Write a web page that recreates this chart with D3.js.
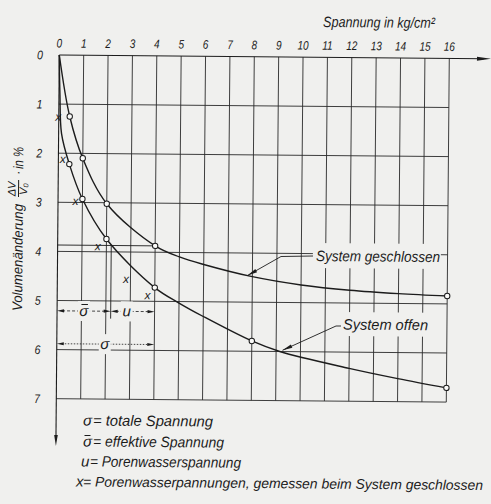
<!DOCTYPE html>
<html><head><meta charset="utf-8">
<script src="https://cdn.jsdelivr.net/npm/d3@7/dist/d3.min.js"></script>
<style>html,body{margin:0;padding:0;background:#f0f0ee;}svg{display:block}</style>
</head><body>
<svg id="c" width="491" height="504"></svg>
<script>
// ---------- data ----------
const xTicks = [0,1,2,3,4,5,6,7,8,9,10,11,12,13,14,15,16];
const xTickLabels = ["0","1","2","3","4","5","6","7","8","9","10","11","12","13","14","15","16"];
const yTicks = [0,1,2,3,4,5,6,7];
const yTickLabels = ["0","1","2","3","4","5","6","7"];

// measured points (circles)
const closedStress = [0.45, 1, 2, 4, 16];
const closedVol    = [1.25, 2.1, 3.02, 3.87, 4.84];
const openStress   = [0.45, 1, 2, 4, 8, 16];
const openVol      = [2.22, 2.93, 3.74, 4.72, 5.79, 6.71];

// drawn curves
const closedCurveX = [0, 0.45, 1, 2, 4, 5, 6, 8, 10, 12, 14, 16];
const closedCurveY = [0, 1.25, 2.1, 3.02, 3.87, 4.09, 4.24, 4.48, 4.64, 4.74, 4.8, 4.84];
const openCurveX = [0, 0.04, 0.12, 0.45, 1, 2, 4, 5, 6, 8, 9.15, 12, 14, 16];
const openCurveY = [0, 0.8, 1.6, 2.22, 2.93, 3.74, 4.72, 5.03, 5.3, 5.79, 6.0, 6.33, 6.53, 6.71];

// pore water pressures measured with closed system (x marks)
const poreX = [0, 0.2, 0.74, 1.67, 2.84, 3.73];
const poreY = [1.27, 2.13, 2.98, 3.9, 4.56, 4.89];

// construction for sigma / sigma-bar / u at sigma = 4
const refStress = 4, refVol = 3.87, effStress = 2.2;

const xTitle = "Spannung in kg/cm²";
const yTitleMain = "Volumenänderung";
const legendSymbols = ["σ", "σ", "u", "x"];
const legendTexts = ["= totale Spannung", "= effektive Spannung", "= Porenwasserspannung",
  "= Porenwasserpannungen, gemessen beim System geschlossen"];
const curveLabels = ["System geschlossen", "System offen"];

// ---------- layout ----------
const W = 491, H = 504, BG = "#f0f0ee", INK = "#1c1c1c";
const OX = 59.3, OY = 55, THETA = 0.5;
const rad = THETA*Math.PI/180, sn = Math.sin(rad), cs = Math.cos(rad);
const FONT = "'Liberation Sans Narrow','Liberation Sans','DejaVu Sans',sans-serif";
const x = d3.scaleLinear().domain([0,16]).range([OX, OX+390]);
const y = d3.scaleLinear().domain([0,7]).range([OY, OY+7*49.1]);
function inv(X,Y){const dx=X-OX, dy=Y-OY; return [OX+cs*dx+sn*dy, OY-sn*dx+cs*dy];}

const svg = d3.select("#c");
svg.append("rect").attr("width",W).attr("height",H).attr("fill",BG);
const g = svg.append("g").attr("transform",`rotate(${THETA},${OX},${OY})`);

function text(parent, px, py, str, o={}){
  const t = parent.append("text").attr("x",px).attr("y",py).text(str)
    .attr("font-family",FONT).attr("font-style","italic")
    .attr("font-size",o.size||15).attr("fill",INK)
    .attr("text-anchor",o.anchor||"start");
  if(o.len){t.attr("textLength",o.len).attr("lengthAdjust","spacingAndGlyphs");}
  return t;
}
function textS(X,Y,str,o){const p=inv(X,Y); return text(g,p[0],p[1],str,o);}
function boxS(X,Y,w,h){const p=inv(X,Y); g.append("rect").attr("x",p[0]).attr("y",p[1]).attr("width",w).attr("height",h).attr("fill",BG);}
function barS(X,Y,w){const p=inv(X,Y); g.append("line").attr("x1",p[0]-w/2).attr("x2",p[0]+w/2).attr("y1",p[1]).attr("y2",p[1]).attr("stroke",INK).attr("stroke-width",1);}
function arrowHead(parent, tx, ty, fx, fy, len, hw){
  const dx=tx-fx, dy=ty-fy, L=Math.hypot(dx,dy), ux=dx/L, uy=dy/L;
  const bx=tx-ux*len, by=ty-uy*len;
  parent.append("path").attr("d",`M${tx},${ty}L${bx-uy*hw},${by+ux*hw}L${bx+uy*hw},${by-ux*hw}Z`).attr("fill",INK);
}

// ---------- grid ----------
const grid = g.append("g").attr("stroke","#2a2a2a").attr("stroke-width",0.9).attr("fill","none");
xTicks.filter(d=>d>0).forEach(d=>grid.append("line").attr("x1",x(d)).attr("x2",x(d)).attr("y1",y(0)).attr("y2",y(7)));
yTicks.filter(d=>d>0).forEach(d=>grid.append("line").attr("x1",x(0)).attr("x2",x(16)).attr("y1",y(d)).attr("y2",y(d)));

// axes with arrows
g.append("line").attr("x1",x(0)).attr("x2",484).attr("y1",y(0)).attr("y2",y(0)).attr("stroke",INK).attr("stroke-width",1.1);
arrowHead(g, 491, y(0), 400, y(0), 14, 2);
g.append("line").attr("x1",x(0)).attr("x2",x(0)).attr("y1",y(0)).attr("y2",438).attr("stroke",INK).attr("stroke-width",1.1);
arrowHead(g, x(0), 446, x(0), 300, 11, 1.8);

// tick labels
xTicks.forEach((d,i)=>{
  g.append("text").attr("transform",`translate(${x(d)},${OY-7.5}) scale(0.8,1)`)
   .attr("text-anchor","middle").attr("font-family",FONT).attr("font-style","italic")
   .attr("font-size",12.5).attr("fill",INK).text(xTickLabels[i]);
});
yTicks.forEach((d,i)=>{
  g.append("text").attr("transform",`translate(40,${y(d)+4.5}) scale(0.85,1)`)
   .attr("text-anchor","middle").attr("font-family",FONT).attr("font-style","italic")
   .attr("font-size",12.5).attr("fill",INK).text(yTickLabels[i]);
});

// axis titles
textS(323, 27, xTitle, {size:15, len:112});
{
  const p = inv(22, 311);
  const yt = g.append("g").attr("transform",`translate(${p[0]},${p[1]}) rotate(-90)`);
  text(yt, 0, 0, yTitleMain, {size:14, len:107});
  text(yt, 122, -7.5, "ΔV", {size:11, anchor:"middle"});
  text(yt, 122, 4, "V₀", {size:11, anchor:"middle"});
  yt.append("line").attr("x1",114).attr("x2",131).attr("y1",-4.5).attr("y2",-4.5).attr("stroke",INK).attr("stroke-width",1);
  text(yt, 136, -1, "·", {size:13});
  text(yt, 142, 0, "in %", {size:14, len:22});
}

// ---------- construction lines ----------
const cons = g.append("g").attr("stroke",INK).attr("stroke-width",0.9).attr("fill","none");
cons.append("line").attr("x1",x(0)).attr("x2",x(refStress)).attr("y1",y(refVol)).attr("y2",y(refVol));
cons.append("line").attr("x1",x(effStress)).attr("x2",x(effStress)).attr("y1",y(refVol)).attr("y2",y(5.36));

function dimension(x0v, x1v, yv, dash){
  const a=x(x0v), b=x(x1v), yy=y(yv);
  g.append("line").attr("x1",a+5).attr("x2",b-5).attr("y1",yy).attr("y2",yy)
   .attr("stroke",INK).attr("stroke-width",0.8).attr("stroke-dasharray",dash);
  arrowHead(g, a, yy, b, yy, 7, 1.6);
  arrowHead(g, b, yy, a, yy, 7, 1.6);
}
dimension(0, effStress, 5.21, "3,2");
dimension(effStress, refStress, 5.21, "3,2");
dimension(0, refStress, 5.88, "1.5,1.5");
function dimLabel(xv, yv, str, bar){
  g.append("rect").attr("x",x(xv)-6).attr("y",y(yv)-10).attr("width",12).attr("height",20).attr("fill",BG);
  text(g, x(xv), y(yv)+5, str, {size:15, anchor:"middle"});
  if(bar){g.append("line").attr("x1",x(xv)-2.5).attr("x2",x(xv)+4).attr("y1",y(yv)-6.5).attr("y2",y(yv)-6.5).attr("stroke",INK).attr("stroke-width",1);}
}
dimLabel(1.1, 5.21, "σ", true);
dimLabel(2.86, 5.21, "u", false);
dimLabel(1.97, 5.88, "σ", false);

// ---------- curves ----------
const line = d3.line().x(d=>x(d[0])).y(d=>y(d[1])).curve(d3.curveCatmullRom.alpha(0.5));
g.append("path").attr("d", line(closedCurveX.map((v,i)=>[v,closedCurveY[i]])))
  .attr("fill","none").attr("stroke",INK).attr("stroke-width",1.4);
g.append("path").attr("d", line(openCurveX.map((v,i)=>[v,openCurveY[i]])))
  .attr("fill","none").attr("stroke",INK).attr("stroke-width",1.4);

// pore pressure marks
poreX.forEach((v,i)=>{
  text(g, x(v)-0.5, y(poreY[i])+3.5, "x", {size:12, anchor:"middle"});
});

// circles
const pts = closedStress.map((v,i)=>[v,closedVol[i]]).concat(openStress.map((v,i)=>[v,openVol[i]]));
g.selectAll("circle.m").data(pts).join("circle").attr("class","m")
  .attr("cx",d=>x(d[0])).attr("cy",d=>y(d[1])).attr("r",2.7)
  .attr("fill","#fbfbf9").attr("stroke",INK).attr("stroke-width",1);

// ---------- curve labels & leaders ----------
boxS(313, 243, 128, 25);
boxS(341, 312, 90, 24);
textS(316, 261, curveLabels[0], {size:15, len:124});
textS(343, 329.5, curveLabels[1], {size:15, len:85});
function leader(ptsS){
  const P = ptsS.map(p=>inv(p[0],p[1]));
  g.append("path").attr("d","M"+P.map(p=>p.join(",")).join("L")).attr("fill","none").attr("stroke",INK).attr("stroke-width",0.9);
  const t=P[P.length-1], f=P[P.length-2];
  arrowHead(g, t[0], t[1], f[0], f[1], 10, 1.8);
}
leader([[313,256],[281,256.5],[247.5,275.5]]);
leader([[341,326],[336,326],[282.5,350.3]]);

// ---------- legend ----------
const legX = [83, 83, 81, 76], legY = [425.5, 446.5, 466.5, 486.5];
const legTX = [93, 93, 90, 83], legLen = [120, 131, 151, 400], legSize = [15, 15, 15, 14];
legendSymbols.forEach((s,i)=>{
  textS(legX[i], legY[i], s, {size:15});
  textS(legTX[i], legY[i], legendTexts[i], {size:legSize[i], len:legLen[i]});
});
barS(87.5, legY[1]-11, 6);
</script>
</body></html>
